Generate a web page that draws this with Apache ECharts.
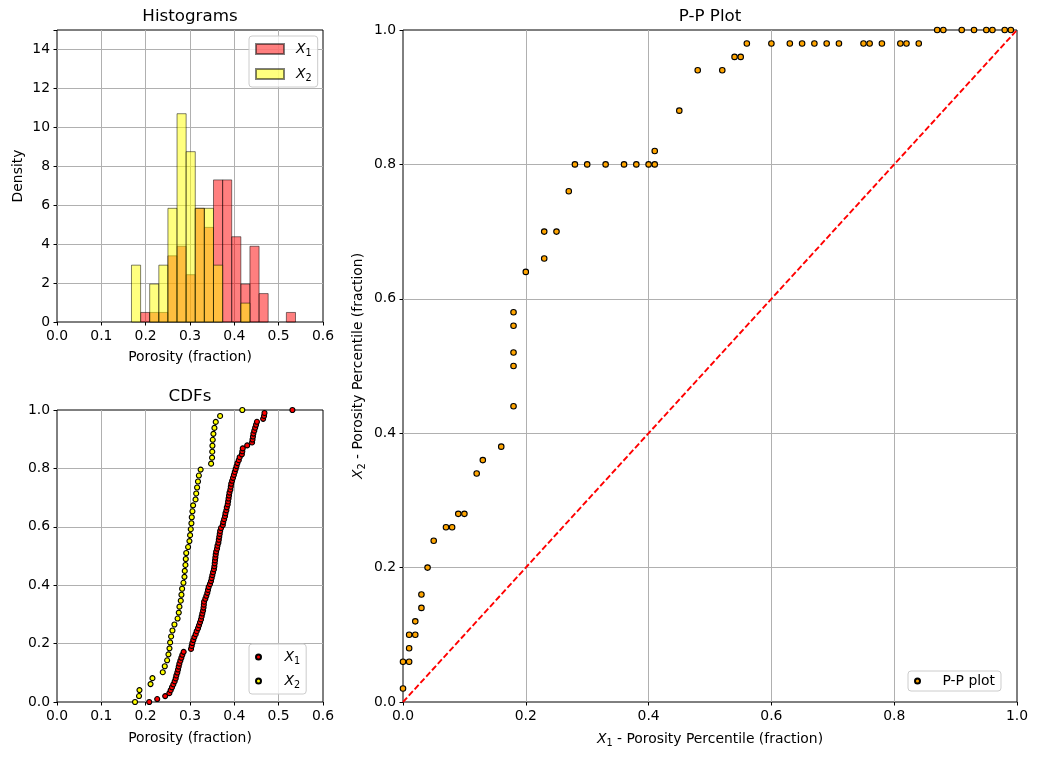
<!DOCTYPE html>
<html><head><meta charset="utf-8">
<script src="https://cdn.jsdelivr.net/npm/echarts@6/dist/echarts.min.js"></script>
<style>html,body{margin:0;padding:0;background:#fff}#c{width:1038px;height:759px}</style>
</head><body><div id="c"></div>
<script>
// ---- data ----
const binEdges = [0.168, 0.1886, 0.2091, 0.2297, 0.2502, 0.2708, 0.2913, 0.3119, 0.3324, 0.353,
                  0.3736, 0.3941, 0.4147, 0.4352, 0.4558, 0.4763, 0.4969, 0.5174, 0.538];
const x1Density = [0, 0.49, 0.49, 0.49, 3.40, 3.89, 2.43, 5.84, 4.86, 7.30, 7.30, 4.38, 1.95, 3.89, 1.46, 0, 0, 0.49];
const x2Density = [2.92, 0, 1.95, 2.92, 5.84, 10.70, 8.75, 5.84, 5.84, 2.92, 0, 0, 0.97, 0, 0, 0, 0, 0];

const x1Sorted = [0.208, 0.226, 0.244, 0.2534, 0.2564, 0.2594, 0.2624, 0.2654, 0.2677, 0.2692,
  0.2714, 0.273, 0.2745, 0.276, 0.2782, 0.2805, 0.2827, 0.2857, 0.3023, 0.3038,
  0.3053, 0.3075, 0.3098, 0.3128, 0.3151, 0.3181, 0.3203, 0.3226, 0.3248, 0.3263,
  0.3278, 0.3295, 0.3305, 0.3312, 0.3318, 0.3346, 0.3369, 0.3391, 0.3406, 0.3421,
  0.3451, 0.3474, 0.3489, 0.3504, 0.352, 0.354, 0.355, 0.3557, 0.3564, 0.3572,
  0.358, 0.359, 0.361, 0.362, 0.364, 0.365, 0.366, 0.367, 0.368, 0.370,
  0.374, 0.375, 0.377, 0.379, 0.380, 0.382, 0.383, 0.385, 0.386, 0.387,
  0.388, 0.389, 0.391, 0.392, 0.393, 0.395, 0.397, 0.399, 0.401, 0.403,
  0.405, 0.407, 0.410, 0.412, 0.417, 0.418, 0.419, 0.429, 0.440, 0.441,
  0.442, 0.443, 0.445, 0.447, 0.449, 0.451, 0.465, 0.467, 0.468, 0.531];
const x2Sorted = [0.176, 0.185, 0.186, 0.211, 0.2153, 0.2386, 0.2431, 0.2484, 0.2514, 0.2537,
  0.2552, 0.2574, 0.2604, 0.2649, 0.272, 0.2747, 0.2762, 0.2792, 0.2807, 0.2822,
  0.2852, 0.2875, 0.2882, 0.2897, 0.2905, 0.2915, 0.2957, 0.2987, 0.3002, 0.3017,
  0.3032, 0.304, 0.3055, 0.307, 0.3125, 0.314, 0.316, 0.318, 0.320, 0.324,
  0.3476, 0.3498, 0.3502, 0.3506, 0.3513, 0.3528, 0.3551, 0.3581, 0.3679, 0.418];

const ppX = [0.00, 0.00, 0.01, 0.01, 0.01, 0.02, 0.02, 0.03, 0.03, 0.04, 0.05, 0.07, 0.08, 0.09, 0.10,
  0.12, 0.13, 0.16, 0.18, 0.18, 0.18, 0.18, 0.18, 0.20, 0.23, 0.23, 0.25, 0.27,
  0.28, 0.30, 0.33, 0.36, 0.38, 0.40, 0.41, 0.41, 0.45, 0.48, 0.52, 0.54, 0.55,
  0.56, 0.60, 0.63, 0.65, 0.67, 0.69, 0.71, 0.75, 0.76, 0.78, 0.81, 0.82, 0.84,
  0.87, 0.88, 0.91, 0.93, 0.95, 0.96, 0.98, 0.99];
const ppY = [0.02, 0.06, 0.06, 0.08, 0.10, 0.10, 0.12, 0.14, 0.16, 0.20, 0.24, 0.26, 0.26, 0.28, 0.28,
  0.34, 0.36, 0.38, 0.44, 0.50, 0.52, 0.56, 0.58, 0.64, 0.66, 0.70, 0.70, 0.76,
  0.80, 0.80, 0.80, 0.80, 0.80, 0.80, 0.80, 0.82, 0.88, 0.94, 0.94, 0.96, 0.96,
  0.98, 0.98, 0.98, 0.98, 0.98, 0.98, 0.98, 0.98, 0.98, 0.98, 0.98, 0.98, 0.98,
  1.00, 1.00, 1.00, 1.00, 1.00, 1.00, 1.00, 1.00];
const refLine = [[0, 0], [1, 1]];

// ---- chart ----
const FONT = 'DejaVu Sans';
const FS = 13.9;
const chart = echarts.init(document.getElementById('c'), null, {renderer: 'canvas'});

const richX = {
  i: {fontFamily: FONT, fontStyle: 'italic', fontSize: FS, color: '#000', lineHeight: 18},
  s: {fontFamily: FONT, fontSize: 9.7, color: '#000', lineHeight: 10, padding: [8, 0, 0, 0]},
  n: {fontFamily: FONT, fontSize: FS, color: '#000', lineHeight: 18}
};
const richLegend = {
  i: {fontFamily: FONT, fontStyle: 'italic', fontSize: FS, color: '#000', lineHeight: 18, padding: [0, 0, 0, 7]},
  s: {fontFamily: FONT, fontSize: 9.7, color: '#000', lineHeight: 10, padding: [8, 0, 0, 0]},
  n: {fontFamily: FONT, fontSize: FS, color: '#000', lineHeight: 18, padding: [0, 0, 0, 6]}
};

function valAxis(gridIndex, min, max, interval, fmt) {
  return {
    type: 'value', gridIndex, min, max, interval,
    axisLine: {show: false},
    axisTick: {show: true, inside: false, length: 3.5, lineStyle: {color: '#000', width: 1}},
    axisLabel: {margin: 7, color: '#000', fontSize: FS, fontFamily: FONT, formatter: fmt},
    splitLine: {show: true, showMinLine: false, showMaxLine: false, lineStyle: {color: '#b0b0b0', width: 1}}
  };
}
const f1 = v => v.toFixed(1);

function histSeries(name, dens, color) {
  const data = [];
  dens.forEach((d, i) => { if (d > 0) data.push([binEdges[i], binEdges[i + 1], d]); });
  return {
    type: 'custom', name, xAxisIndex: 0, yAxisIndex: 0, z: 2,
    data, encode: {x: [0, 1], y: 2},
    itemStyle: {color, borderColor: 'rgba(0,0,0,0.5)', borderWidth: 1},
    renderItem: (params, api) => {
      const p0 = api.coord([api.value(0), api.value(2)]);
      const p1 = api.coord([api.value(1), 0]);
      return {type: 'rect',
        shape: {x: p0[0], y: p0[1], width: p1[0] - p0[0], height: p1[1] - p0[1]},
        style: {fill: color, stroke: 'rgba(0,0,0,0.5)', lineWidth: 1}};
    }
  };
}

const legendBase = {
  orient: 'vertical', selectedMode: false,
  backgroundColor: 'rgba(255,255,255,0.8)', borderColor: '#cccccc', borderWidth: 1, borderRadius: 3,
  padding: [4, 6, 4, 6], itemGap: 6.5, itemWidth: 28,
  textStyle: {fontFamily: FONT, fontSize: FS, color: '#000', rich: richLegend}
};

function gtext(x, y, text, extra) {
  return Object.assign({
    type: 'text', x, y, z: 10,
    style: {text, fontFamily: FONT, fontSize: FS, fill: '#000', align: 'center', verticalAlign: 'middle', rich: richX}
  }, extra || {});
}

const option = {
  animation: false,
  backgroundColor: '#fff',
  grid: [
    {left: 57, top: 30, width: 266, height: 292, show: true, borderColor: '#000', borderWidth: 1, backgroundColor: 'transparent'},
    {left: 57, top: 410, width: 266, height: 292, show: true, borderColor: '#000', borderWidth: 1, backgroundColor: 'transparent'},
    {left: 403, top: 30, width: 614, height: 672, show: true, borderColor: '#000', borderWidth: 1, backgroundColor: 'transparent'}
  ],
  xAxis: [
    valAxis(0, 0, 0.6, 0.1, f1),
    valAxis(1, 0, 0.6, 0.1, f1),
    valAxis(2, 0, 1, 0.2, f1)
  ],
  yAxis: [
    valAxis(0, 0, 15, 2, v => (v > 14.5 ? '' : String(v))),
    valAxis(1, 0, 1, 0.2, f1),
    valAxis(2, 0, 1, 0.2, f1)
  ],
  legend: [
    Object.assign({}, legendBase, {
      data: ['hX1', 'hX2'], left: 249, top: 36, itemHeight: 10, itemGap: 7, icon: 'rect',
      formatter: n => '{i|X}{s|' + n.slice(-1) + '}'
    }),
    Object.assign({}, legendBase, {
      data: ['cX1', 'cX2'], left: 249, top: 644, itemHeight: 5, itemGap: 6, icon: 'circle',
      formatter: n => '{i|X}{s|' + n.slice(-1) + '}'
    }),
    Object.assign({}, legendBase, {
      data: ['P-P plot'], left: 908, top: 671, itemHeight: 5, icon: 'circle', padding: [3, 6, 3, 6],
      formatter: n => '{n|' + n + '}'
    })
  ],
  series: [
    histSeries('hX1', x1Density, 'rgba(255,0,0,0.5)'),
    histSeries('hX2', x2Density, 'rgba(255,255,0,0.5)'),
    {
      type: 'scatter', name: 'cX1', xAxisIndex: 1, yAxisIndex: 1, z: 2, symbolSize: 5,
      data: x1Sorted.map((v, i) => [v, i / (x1Sorted.length - 1)]),
      itemStyle: {color: '#ff0000', borderColor: '#000', borderWidth: 1.1, opacity: 1}
    },
    {
      type: 'scatter', name: 'cX2', xAxisIndex: 1, yAxisIndex: 1, z: 2, symbolSize: 5,
      data: x2Sorted.map((v, i) => [v, i / (x2Sorted.length - 1)]),
      itemStyle: {color: '#ffff00', borderColor: '#000', borderWidth: 1.1, opacity: 1}
    },
    {
      type: 'scatter', name: 'P-P plot', xAxisIndex: 2, yAxisIndex: 2, z: 2, symbolSize: 5.5,
      data: ppX.map((v, i) => [v, ppY[i]]),
      itemStyle: {color: '#ffa500', borderColor: '#000', borderWidth: 1.1, opacity: 1}
    },
    {
      type: 'line', name: 'ref', xAxisIndex: 2, yAxisIndex: 2, z: 4, symbol: 'none', silent: true,
      data: refLine,
      lineStyle: {color: '#ff0000', width: 1.9, type: [6, 2.6]}
    }
  ],
  graphic: [
    gtext(190, 17, 'Histograms', {style: {text: 'Histograms', fontFamily: FONT, fontSize: 16.7, fill: '#000', align: 'center', verticalAlign: 'middle'}}),
    gtext(190, 397, 'CDFs', {style: {text: 'CDFs', fontFamily: FONT, fontSize: 16.7, fill: '#000', align: 'center', verticalAlign: 'middle'}}),
    gtext(710, 17, 'P-P Plot', {style: {text: 'P-P Plot', fontFamily: FONT, fontSize: 16.7, fill: '#000', align: 'center', verticalAlign: 'middle'}}),
    gtext(190, 357, 'Porosity (fraction)'),
    gtext(190, 738, 'Porosity (fraction)'),
    gtext(18, 176, 'Density', {rotation: Math.PI / 2}),
    gtext(710, 739, '{i|X}{s|1}{n| - Porosity Percentile (fraction)}'),
    gtext(358, 366, '{i|X}{s|2}{n| - Porosity Percentile (fraction)}', {rotation: Math.PI / 2})
  ]
};
chart.setOption(option);
</script>
</body></html>
